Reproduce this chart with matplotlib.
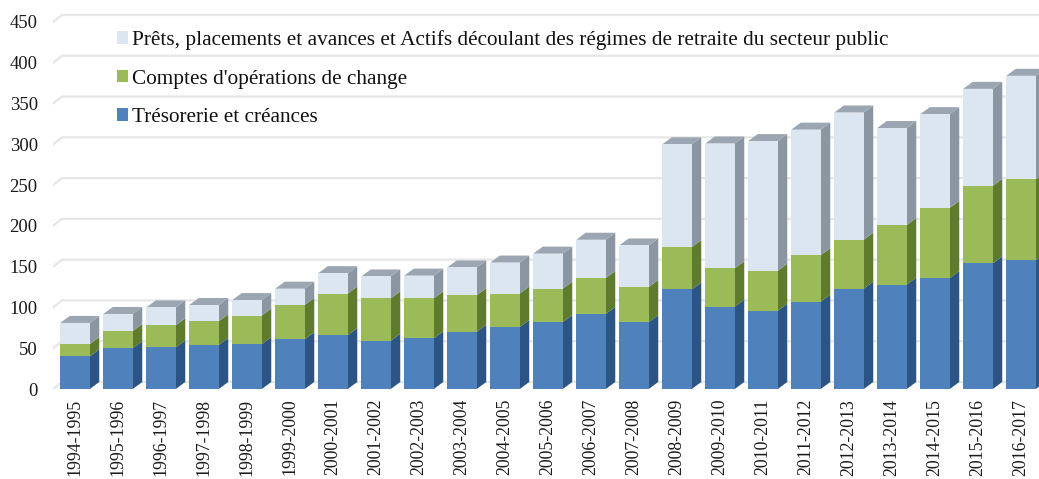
import matplotlib
matplotlib.use("Agg")
import matplotlib.pyplot as plt
from matplotlib.patches import Patch, Polygon, Rectangle
import numpy as np

plt.rcParams["font.family"] = ["Liberation Serif", "DejaVu Serif"]

periods = ["1994-1995", "1995-1996", "1996-1997", "1997-1998", "1998-1999", "1999-2000",
           "2000-2001", "2001-2002", "2002-2003", "2003-2004", "2004-2005", "2005-2006",
           "2006-2007", "2007-2008", "2008-2009", "2009-2010", "2010-2011", "2011-2012",
           "2012-2013", "2013-2014", "2014-2015", "2015-2016", "2016-2017"]
tresorerie = [40, 50, 51, 54, 55, 61, 66, 59, 62, 70, 76, 82, 92, 82, 122, 101, 96, 107, 123, 128, 136, 154, 158]
change = [15, 21, 27, 29, 35, 42, 51, 52, 49, 45, 41, 41, 44, 43, 52, 47, 49, 57, 60, 73, 86, 95, 99]
prets = [26, 21, 22, 20, 19, 20, 25, 27, 28, 34, 38, 43, 47, 51, 126, 153, 159, 154, 156, 119, 115, 119, 127]
y_ticks = list(range(0, 451, 50))

labels = ["Prêts, placements et avances et Actifs découlant des régimes de retraite du secteur public",
          "Comptes d'opérations de change",
          "Trésorerie et créances"]

# couleurs : face avant, côté, dessus
BLUE = ("#4f81bd", "#2c5485", "#2c5485")
GREEN = ("#9bbb59", "#5f7b2d", "#5f7b2d")
PALE = ("#dce6f1", "#8b96a3", "#9ba6b2")

W, H = 1039, 479
PX_LEFT, PX_BASE, PX_TOP = 53, 389, 10
PX_PER_UNIT = 0.8156
PX_PER_CAT = 43.0
X0_PX = 75  # centre de la première barre

fig = plt.figure(figsize=(W / 100, H / 100), dpi=100)
ax = fig.add_axes([PX_LEFT / W, (H - PX_BASE) / H, (W - PX_LEFT) / W, (PX_BASE - PX_TOP) / H])
ax.set_xlim((PX_LEFT - X0_PX) / PX_PER_CAT, (W - X0_PX) / PX_PER_CAT)
ax.set_ylim(0, (PX_BASE - PX_TOP) / PX_PER_UNIT)

# profondeur de la fausse 3D, en unités de données
dx = 9.5 / PX_PER_CAT
dy = 7 / PX_PER_UNIT
bar_w = 29.5 / PX_PER_CAT

# grille : plan du fond + petit retour à gauche
x_left, x_right = ax.get_xlim()
for v in y_ticks:
    ax.plot([x_left, x_left + 9 / PX_PER_CAT, x_right], [v, v + dy, v + dy],
            color="#e6e6e6", lw=1.6, zorder=1, solid_joinstyle="round")


def draw_segment(x, bottom, height, colors, z):
    left, right = x - bar_w / 2, x + bar_w / 2
    top = bottom + height
    ax.add_patch(Rectangle((left, bottom), bar_w, height, fc=colors[0], ec="none", zorder=z + 0.2))
    ax.add_patch(Polygon([(right, bottom), (right + dx, bottom + dy), (right + dx, top + dy), (right, top)],
                         fc=colors[1], ec="none", zorder=z))
    return left, right, top


for i in range(len(periods)):
    z = 2 + i
    draw_segment(i, 0, tresorerie[i], BLUE, z)
    draw_segment(i, tresorerie[i], change[i], GREEN, z)
    left, right, top = draw_segment(i, tresorerie[i] + change[i], prets[i], PALE, z)
    ax.add_patch(Polygon([(left, top), (right, top), (right + dx, top + dy), (left + dx, top + dy)],
                         fc=PALE[2], ec="none", zorder=z))

ax.set_xticks(np.arange(len(periods)))
ax.set_xticklabels(periods, rotation=90, color="#1a1a1a")
ax.set_yticks(y_ticks)
ax.tick_params(axis="both", length=0, labelcolor="#1a1a1a")
ax.tick_params(axis="x", labelsize=12.8, pad=7)
ax.tick_params(axis="y", labelsize=13.4, pad=11)
for side in ax.spines.values():
    side.set_visible(False)

handles = [Patch(fc=PALE[0]), Patch(fc=GREEN[0]), Patch(fc=BLUE[0])]
ax.legend(handles, labels, loc="upper left", bbox_to_anchor=(117 / W, 1 - 30 / H), bbox_transform=fig.transFigure,
          frameon=False, fontsize=15.35, handlelength=0.52, handleheight=0.52, handletextpad=0.19,
          labelspacing=0.92, borderpad=0, borderaxespad=0, labelcolor="#111111")

fig.savefig("out.png", dpi=100)
plt.close(fig)
